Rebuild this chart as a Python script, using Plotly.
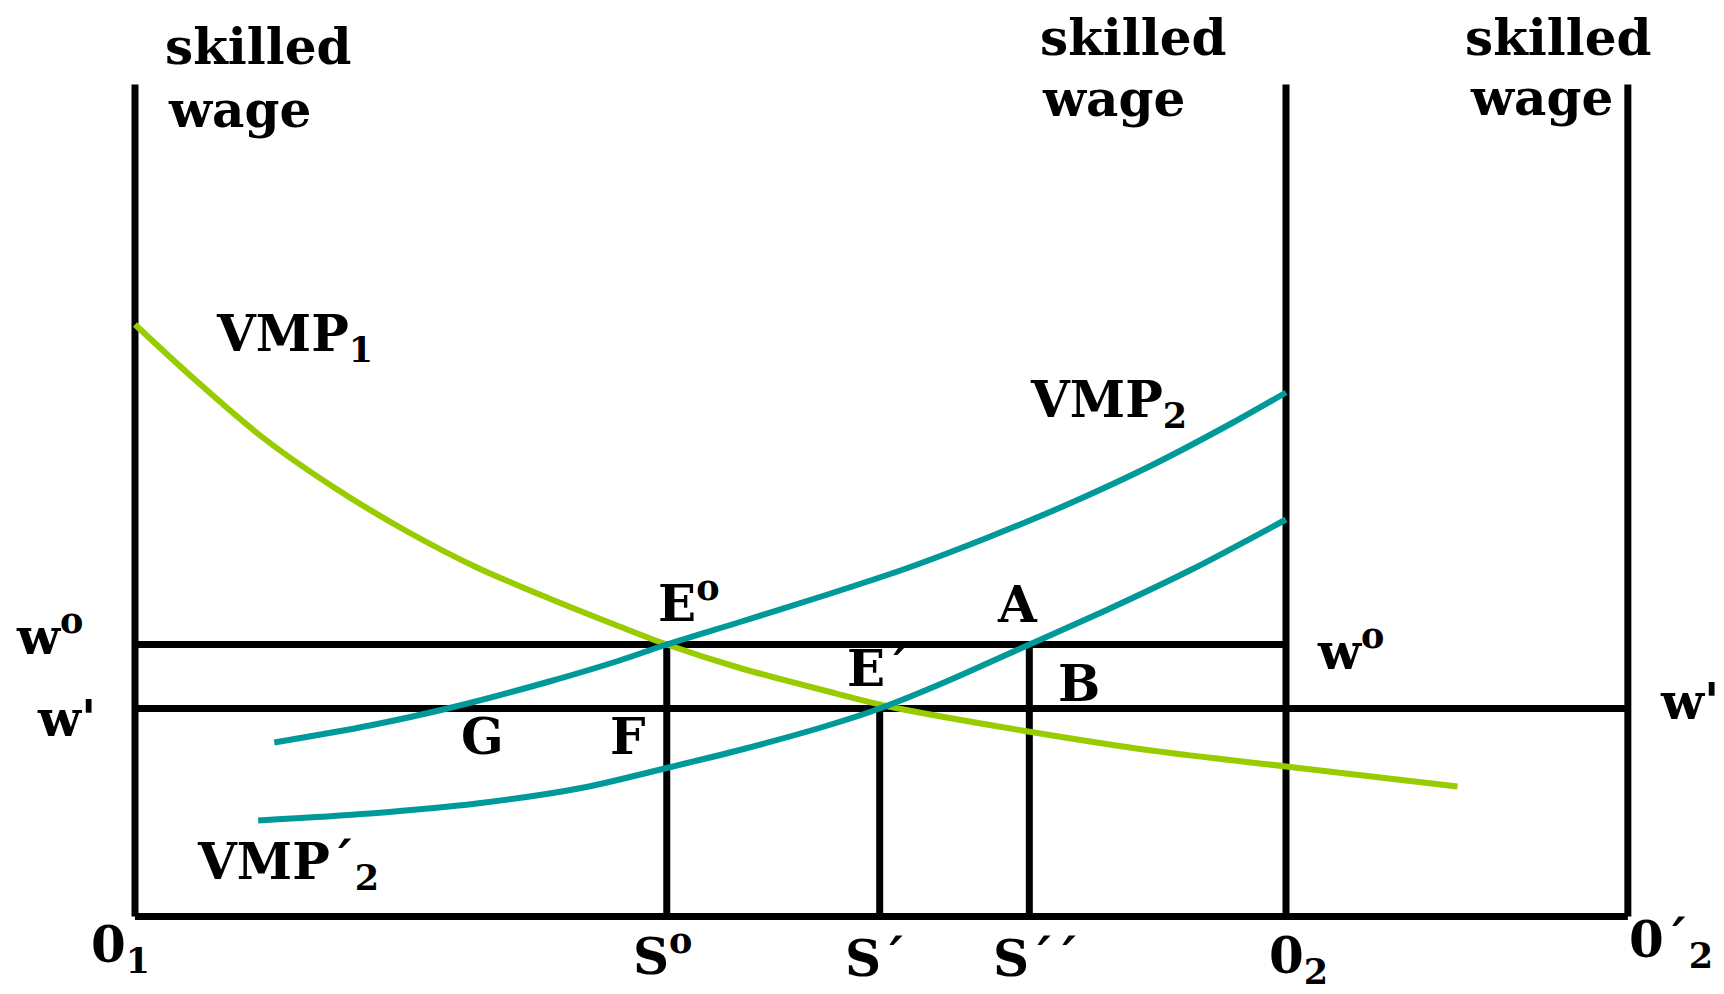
import plotly.graph_objects as go

# ---------------- data ----------------
# x: skilled labour measured from 0_1 (0) to 0_2 (100); 0'_2 sits further right
# y: skilled wage
O1_X = 0.0
O2_X = 100.0
O2P_X = 129.7
AXIS_TOP = 83.2

W0 = 27.2   # w°
W1 = 20.8   # w'
S0 = 46.2   # S°
S1 = 64.7   # S´
S2 = 77.7   # S´´

vmp1_x = [0, 4.9, 11.1, 17.3, 23.5, 29.7, 36.0, 42.1, 46.2, 52.7, 59.9, 65.5, 77.6, 88.3, 100.0, 114.9]
vmp1_y = [59.2, 54.0, 47.9, 42.9, 38.6, 34.9, 31.8, 29.0, 27.2, 24.8, 22.6, 21.0, 18.5, 16.6, 15.0, 13.0]

vmp2_x = [12.1, 20.4, 27.5, 36.0, 42.1, 46.2, 52.7, 59.9, 67.0, 74.1, 81.2, 88.3, 95.4, 100.0]
vmp2_y = [17.4, 19.1, 20.9, 23.5, 25.6, 27.2, 29.5, 32.1, 34.8, 37.9, 41.3, 45.1, 49.4, 52.4]

vmp2b_x = [10.7, 20.4, 29.7, 39.0, 46.2, 52.7, 59.9, 64.7, 70.5, 77.7, 84.7, 91.8, 100.0]
vmp2b_y = [9.6, 10.3, 11.3, 12.9, 14.85, 16.7, 19.0, 20.8, 23.5, 27.2, 30.8, 34.7, 39.7]

# ---------------- styles ----------------
GREEN = "#99CC00"
TEAL = "#009999"
BLACK = "#000000"
FONT = "DejaVu Serif"
FS = 50
PX_PER_X = 11.51
PX_PER_Y = 10.0
ORIGIN_PX = (127, 908.5)   # where 0_1 sits inside the figure

fig = go.Figure()

def seg(xs, ys, color=BLACK, width=7):
    fig.add_trace(go.Scatter(x=xs, y=ys, mode="lines",
                             line=dict(color=color, width=width),
                             hoverinfo="skip", showlegend=False))

# frame and guide lines
seg([O1_X, O1_X], [0, AXIS_TOP])
seg([O2_X, O2_X], [0, AXIS_TOP])
seg([O2P_X, O2P_X], [0, AXIS_TOP])
seg([O1_X, O2P_X], [0, 0])
seg([O1_X, O2_X], [W0, W0])
seg([O1_X, O2P_X], [W1, W1])
seg([S0, S0], [0, W0])
seg([S1, S1], [0, W1])
seg([S2, S2], [0, W0])

# curves
for xs, ys, c in [(vmp1_x, vmp1_y, GREEN), (vmp2_x, vmp2_y, TEAL), (vmp2b_x, vmp2b_y, TEAL)]:
    fig.add_trace(go.Scatter(x=xs, y=ys, mode="lines",
                             line=dict(color=c, width=6, shape="spline", smoothing=0.8),
                             hoverinfo="skip", showlegend=False))

# labels: (text, x, y baseline, x anchor)
labels = [
    ("skilled", 10.73, 84.98, "center"), ("wage", 9.04, 78.72, "center"),
    ("skilled", 86.75, 85.9, "center"), ("wage", 84.97, 79.8, "center"),
    ("skilled", 123.68, 85.85, "center"), ("wage", 122.2, 79.85, "center"),
    ("VMP<sub>1</sub>", 13.9, 56.25, "center"),
    ("VMP<sub>2</sub>", 84.62, 49.65, "center"),
    ("VMP´<sub>2</sub>", 13.25, 3.45, "center"),
    ("w<sup>o</sup>", -7.47, 25.82, "center"),
    ("w'", -5.91, 17.82, "center"),
    ("G", 30.19, 15.95, "center"),
    ("F", 42.83, 15.95, "center"),
    ("E<sup>o</sup>", 48.05, 29.15, "center"),
    ("A", 76.63, 29.15, "center"),
    ("E´", 64.6, 22.82, "center"),
    ("B", 82.02, 21.32, "center"),
    ("S<sup>o</sup>", 45.79, -6.18, "center"),
    ("S´", 64.34, -6.18, "center"),
    ("S´´", 78.28, -6.18, "center"),
    ("0<sub>1</sub>", -1.26, -4.85, "center"),
    ("0<sub>2</sub>", 101.09, -6.02, "center"),
    ("0´<sub>2</sub>", 137.3, -4.35, "right"),
    ("w<sup>o</sup>", 105.56, 24.35, "center"),
    ("w'", 137.8, 19.45, "right"),
]
for text, x, yb, xa in labels:
    ys = 0.346 * FS + 3
    if "<sup>" in text:
        ys += 5
    elif "<sub>" in text:
        ys -= 3
    fig.add_annotation(x=x, y=yb, xref="x", yref="y", text=text, showarrow=False,
                       xanchor=xa, yanchor="middle", yshift=ys,
                       font=dict(family=FONT, size=FS, color=BLACK, weight="bold"))

W, H = 1724, 994
fig.update_layout(
    width=W, height=H,
    margin=dict(l=0, r=0, t=0, b=0),
    paper_bgcolor="white", plot_bgcolor="white",
    showlegend=False, hovermode=False,
    xaxis=dict(range=[-ORIGIN_PX[0] / PX_PER_X, (W - ORIGIN_PX[0]) / PX_PER_X],
               visible=False, fixedrange=True),
    yaxis=dict(range=[(ORIGIN_PX[1] - H) / PX_PER_Y, ORIGIN_PX[1] / PX_PER_Y],
               visible=False, fixedrange=True),
)

fig.write_html("out.html")
